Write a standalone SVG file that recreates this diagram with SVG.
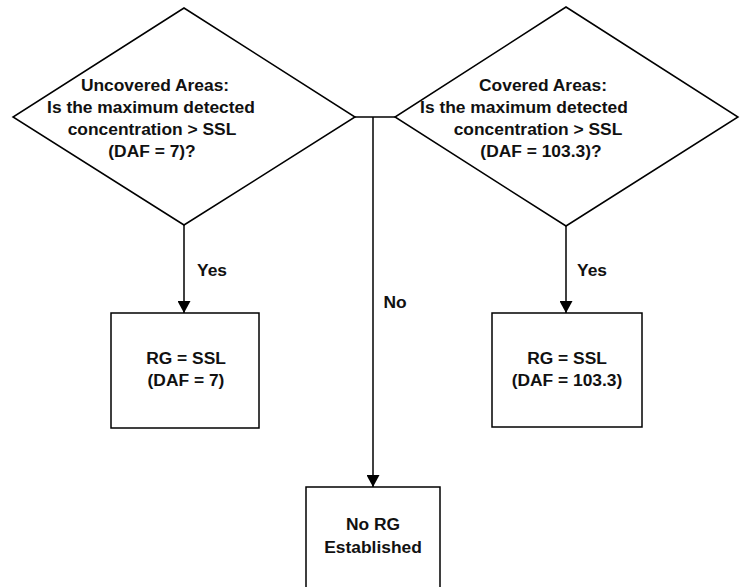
<svg xmlns="http://www.w3.org/2000/svg" width="744" height="587" viewBox="0 0 744 587">
<style>
.shape{fill:#fff;stroke:#000;stroke-width:1.5}
.line{fill:none;stroke:#000;stroke-width:1.5}
text{font-family:"Liberation Sans",Arial,sans-serif;font-size:17.4px;font-weight:bold;fill:#111;text-anchor:middle}
</style>
<defs>
<marker id="arr" viewBox="0 0 12 13" refX="12" refY="6.5" markerWidth="12" markerHeight="13" markerUnits="userSpaceOnUse" orient="auto">
<path d="M0,0 L12,6.5 L0,13 Z" fill="#000"/>
</marker>
</defs>
<rect width="744" height="587" fill="#fff"/>
<g id="connectors">
<path class="line" d="M184,225 V313" marker-end="url(#arr)"/>
<path class="line" d="M566,226 V313" marker-end="url(#arr)"/>
<path class="line" d="M355,117 H395"/>
<path class="line" d="M373,117 V487" marker-end="url(#arr)"/>
<text x="212" y="276">Yes</text>
<text x="395" y="308">No</text>
<text x="592" y="276">Yes</text>
</g>
<g id="decision-uncovered">
<polygon class="shape" points="184,8 355,117 184,225 13,117"/>
<text x="155" y="91">Uncovered Areas:</text>
<text x="151" y="113">Is the maximum detected</text>
<text x="152" y="135">concentration &gt; SSL</text>
<text x="152" y="157">(DAF = 7)?</text>
</g>
<g id="decision-covered">
<polygon class="shape" points="566,7 738,117 566,226 395,117"/>
<text x="543" y="91">Covered Areas:</text>
<text x="524" y="113">Is the maximum detected</text>
<text x="538" y="135">concentration &gt; SSL</text>
<text x="541" y="157">(DAF = 103.3)?</text>
</g>
<g id="rg-uncovered">
<rect class="shape" x="111" y="313" width="148" height="115"/>
<text x="186" y="364">RG = SSL</text>
<text x="186" y="386">(DAF = 7)</text>
</g>
<g id="rg-covered">
<rect class="shape" x="492" y="313" width="150" height="114"/>
<text x="567" y="364">RG = SSL</text>
<text x="567" y="386">(DAF = 103.3)</text>
</g>
<g id="no-rg">
<path class="shape" d="M306,600 V487 H440 V600"/>
<text x="373" y="530">No RG</text>
<text x="373" y="553">Established</text>
</g>
</svg>
